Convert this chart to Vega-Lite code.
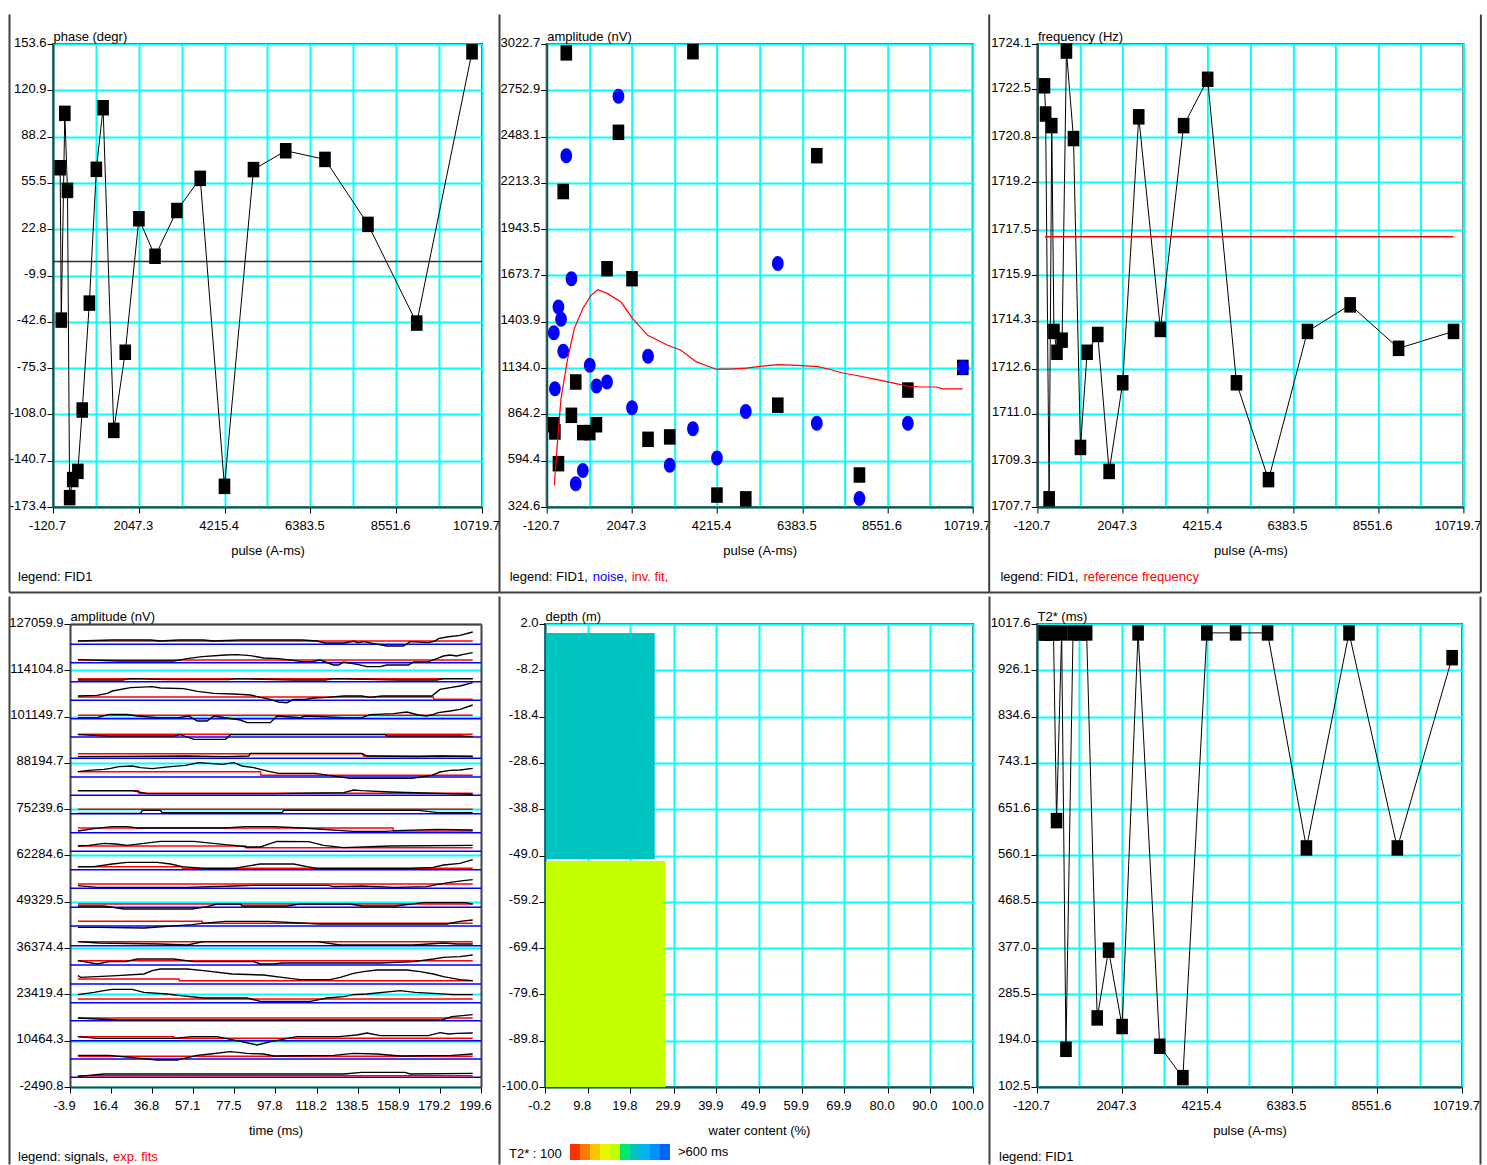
{
"$schema": "https://vega.github.io/schema/vega-lite/v6.json",
"background": "white",
"padding": {"left": 7, "top": 12, "right": 0, "bottom": 0},
"config": {
 "font": "Liberation Sans, Arial, sans-serif",
 "locale": {"number": {"decimal": ".", "thousands": ",", "grouping": [3], "currency": ["$", ""], "minus": "-"}},
 "view": {"stroke": "#404040", "strokeWidth": 2},
 "axis": {"labelFont": "Liberation Sans, Arial, sans-serif", "labelFontSize": 13, "labelColor": "#000000", "titleFont": "Liberation Sans, Arial, sans-serif", "titleFontSize": 13, "titleFontWeight": "normal", "titleColor": "#000000", "grid": true, "gridColor": "#00ffff", "gridWidth": 2, "gridOpacity": 1, "domainColor": "#404040", "domainWidth": 2, "tickColor": "#000000", "tickSize": 6, "tickWidth": 1, "labelOverlap": false, "labelFlush": false},
 "axisX": {"labelPadding": 6, "titlePadding": 12, "labelOffset": -6},
 "axisY": {"labelPadding": 1, "labelOffset": -2, "titleAngle": 0, "titleAlign": "left", "titleBaseline": "alphabetic", "titleX": 0, "titleY": -4},
 "legend": {"labelFont": "Liberation Sans, Arial, sans-serif", "labelFontSize": 13, "labelColor": "#000000", "symbolSize": 0, "symbolStrokeWidth": 0, "symbolOpacity": 0, "labelOffset": -13, "columnPadding": 4, "padding": 0, "orient": "none", "direction": "horizontal", "titleFont": "Liberation Sans, Arial, sans-serif", "titleFontSize": 13, "titleFontWeight": "normal", "titleColor": "#000000", "labelLimit": 0}
},
"datasets": {
 "top": [
  {"p":60,"ph":66.2,"fa":804,"no":1340,"fr":1722.62,"t2":1000},
  {"p":88,"ph":-41.4,"fa":762,"no":1014,"fr":1721.62,"t2":1000},
  {"p":178,"ph":104.6,"fa":577,"no":1490,"fr":1707.99,"t2":1000},
  {"p":245,"ph":50.2,"fa":null,"no":1418,"fr":1721.21,"t2":1000},
  {"p":300,"ph":-166.8,"fa":2163,"no":1232,"fr":1713.92,"t2":1000},
  {"p":378,"ph":-154.0,"fa":2971,"no":2372,"fr":1713.18,"t2":629},
  {"p":508,"ph":-148.2,"fa":859,"no":1655,"fr":1713.61,"t2":1000},
  {"p":618,"ph":-104.9,"fa":1053,"no":460,"fr":1723.85,"t2":177},
  {"p":798,"ph":-29.4,"fa":758,"no":538,"fr":1720.75,"t2":1000},
  {"p":975,"ph":65.1,"fa":758,"no":1150,"fr":1709.81,"t2":1000},
  {"p":1145,"ph":108.6,"fa":804,"no":1030,"fr":1713.18,"t2":1000},
  {"p":1415,"ph":-119.3,"fa":1713,"no":1053,"fr":1713.81,"t2":239},
  {"p":1705,"ph":-64.1,"fa":2508,"no":2718,"fr":1708.96,"t2":373},
  {"p":2050,"ph":30.2,"fa":1655,"no":903,"fr":1712.1,"t2":222},
  {"p":2458,"ph":3.7,"fa":719,"no":1203,"fr":1721.52,"t2":1000},
  {"p":3010,"ph":36.0,"fa":733,"no":568,"fr":1713.99,"t2":183},
  {"p":3600,"ph":58.7,"fa":2978,"no":780,"fr":1721.21,"t2":121},
  {"p":4212,"ph":-158.8,"fa":394,"no":610,"fr":1722.85,"t2":1000},
  {"p":4945,"ph":64.9,"fa":372,"no":881,"fr":1712.1,"t2":1000},
  {"p":5760,"ph":78.2,"fa":918,"no":1744,"fr":1708.67,"t2":1000},
  {"p":6752,"ph":72.1,"fa":2372,"no":812,"fr":1713.92,"t2":575},
  {"p":7838,"ph":26.2,"fa":511,"no":374,"fr":1714.86,"t2":1000},
  {"p":9070,"ph":-43.5,"fa":1006,"no":812,"fr":1713.32,"t2":575},
  {"p":10468,"ph":148.1,"fa":1138,"no":1138,"fr":1713.92,"t2":951}
 ],
 "fit2": [
  {"p":72.7,"v":451},{"p":159,"v":723},{"p":243,"v":956},{"p":413.7,"v":1189},{"p":581.6,"v":1364},{"p":795.4,"v":1480},{"p":1006.6,"v":1558},{"p":1177,"v":1591},{"p":1431.6,"v":1568},{"p":1770,"v":1519},{"p":2067.8,"v":1422},{"p":2449,"v":1325},{"p":2958,"v":1267},{"p":3297,"v":1238},{"p":3679.4,"v":1171.5},{"p":3933.9,"v":1149.5},{"p":4188.4,"v":1127.5},{"p":4527.7,"v":1127.5},{"p":4951.8,"v":1134.1},{"p":5375.9,"v":1145.1},{"p":5757.6,"v":1153.9},{"p":6266.6,"v":1149.5},{"p":6775.5,"v":1142.9},{"p":7072.4,"v":1127.5},{"p":7411.7,"v":1105.5},{"p":7835.8,"v":1087.9},{"p":8259.9,"v":1068.1},{"p":8768.8,"v":1043.8},{"p":9065.7,"v":1028.4},{"p":9447.4,"v":1024},{"p":9786.7,"v":1024},{"p":9956.4,"v":1013},{"p":10465.3,"v":1013}
 ],
 "ref3": [{"p":75,"f":1717.27},{"p":10468,"f":1717.27}],
 "base4": [{"a":121370},{"a":116240},{"a":110924},{"a":105701},{"a":100571},{"a":95441},{"a":89472},{"a":84249},{"a":79119},{"a":73989},{"a":68672},{"a":63449},{"a":58320},{"a":53097},{"a":47781},{"a":42558},{"a":37055},{"a":31645},{"a":26329},{"a":21105},{"a":16069},{"a":10473},{"a":5343},{"a":213}],
 "fit4": [
  {"k":1,"t":0,"a":122303},{"k":1,"t":195.5,"a":122303},
  {"k":2,"t":0,"a":116986},{"k":2,"t":195.5,"a":116986},
  {"k":3,"t":0,"a":111763},{"k":3,"t":195.5,"a":111763},
  {"k":4,"t":0,"a":106633},{"k":4,"t":176,"a":106633},{"k":4,"t":176.3,"a":105980},{"k":4,"t":195.5,"a":105980},
  {"k":5,"t":0,"a":101504},{"k":5,"t":195.5,"a":101504},
  {"k":6,"t":0,"a":96187},{"k":6,"t":195.5,"a":96187},
  {"k":7,"t":0,"a":90777},{"k":7,"t":141,"a":90777},{"k":7,"t":141.3,"a":90125},{"k":7,"t":195.5,"a":90125},
  {"k":8,"t":0,"a":85741},{"k":8,"t":90.4,"a":85741},{"k":8,"t":90.7,"a":84715},{"k":8,"t":195.5,"a":84715},
  {"k":9,"t":0,"a":80425},{"k":9,"t":30,"a":80425},{"k":9,"t":30.3,"a":79678},{"k":9,"t":195.5,"a":79678},
  {"k":10,"t":0,"a":75201},{"k":10,"t":195.5,"a":75201},
  {"k":11,"t":0,"a":69978},{"k":11,"t":156,"a":69978},{"k":11,"t":156.3,"a":69139},{"k":11,"t":195.5,"a":69139},
  {"k":12,"t":0,"a":64942},{"k":12,"t":83,"a":64942},{"k":12,"t":83.3,"a":64475},{"k":12,"t":195.5,"a":64475},
  {"k":13,"t":0,"a":59160},{"k":13,"t":51.6,"a":59160},{"k":13,"t":51.9,"a":58693},{"k":13,"t":195.5,"a":58693},
  {"k":14,"t":0,"a":54310},{"k":14,"t":195.5,"a":54310},
  {"k":15,"t":0,"a":48713},{"k":15,"t":195.5,"a":48713},
  {"k":16,"t":0,"a":43863},{"k":16,"t":61.5,"a":43863},{"k":16,"t":61.8,"a":43304},{"k":16,"t":195.5,"a":43304},
  {"k":17,"t":0,"a":38174},{"k":17,"t":195.5,"a":38174},
  {"k":18,"t":0,"a":32857},{"k":18,"t":195.5,"a":32857},
  {"k":19,"t":0,"a":27728},{"k":19,"t":50,"a":27728},{"k":19,"t":50.3,"a":27261},{"k":19,"t":195.5,"a":27261},
  {"k":20,"t":0,"a":22131},{"k":20,"t":195.5,"a":22131},
  {"k":21,"t":0,"a":16815},{"k":21,"t":195.5,"a":16815},
  {"k":22,"t":0,"a":11592},{"k":22,"t":47.5,"a":11592},{"k":22,"t":47.8,"a":11126},{"k":22,"t":195.5,"a":11126},
  {"k":23,"t":0,"a":6089},{"k":23,"t":195.5,"a":6089},
  {"k":24,"t":0,"a":679},{"k":24,"t":195.5,"a":679}
 ],
 "sig": [
  {"k":1,"t":0,"a":122303},{"k":1,"t":17,"a":122583},{"k":1,"t":36,"a":122583},{"k":1,"t":40.9,"a":122303},{"k":1,"t":50,"a":122583},{"k":1,"t":62,"a":122583},{"k":1,"t":67.3,"a":122303},{"k":1,"t":80.5,"a":122583},{"k":1,"t":111,"a":122583},{"k":1,"t":118.4,"a":122303},{"k":1,"t":122.5,"a":121743},{"k":1,"t":131.6,"a":121743},{"k":1,"t":136.5,"a":122209},{"k":1,"t":139,"a":121836},{"k":1,"t":141.4,"a":122116},{"k":1,"t":153,"a":120904},{"k":1,"t":161.2,"a":120904},{"k":1,"t":164.5,"a":122116},{"k":1,"t":173.6,"a":121836},{"k":1,"t":176.9,"a":122303},{"k":1,"t":178.5,"a":122956},{"k":1,"t":182.6,"a":123422},{"k":1,"t":189.2,"a":123888},{"k":1,"t":195.5,"a":124821},
  {"k":2,"t":0,"a":117080},{"k":2,"t":20.3,"a":116707},{"k":2,"t":47.5,"a":116707},{"k":2,"t":54.1,"a":117359},{"k":2,"t":61.5,"a":117919},{"k":2,"t":73.1,"a":118385},{"k":2,"t":78.8,"a":118479},{"k":2,"t":85.4,"a":118199},{"k":2,"t":92,"a":117546},{"k":2,"t":99.4,"a":117359},{"k":2,"t":103.5,"a":117080},{"k":2,"t":111,"a":116520},{"k":2,"t":115.9,"a":116520},{"k":2,"t":120,"a":116986},{"k":2,"t":126.6,"a":115587},{"k":2,"t":129.1,"a":115587},{"k":2,"t":131.6,"a":116427},{"k":2,"t":139,"a":115681},{"k":2,"t":143.1,"a":115121},{"k":2,"t":149.7,"a":115121},{"k":2,"t":153,"a":115587},{"k":2,"t":163.7,"a":115587},{"k":2,"t":166.2,"a":116427},{"k":2,"t":173.6,"a":116520},{"k":2,"t":177.7,"a":117359},{"k":2,"t":181,"a":118106},{"k":2,"t":184.3,"a":118385},{"k":2,"t":187.6,"a":118106},{"k":2,"t":190.9,"a":118572},{"k":2,"t":195.5,"a":119038},
  {"k":3,"t":0,"a":111390},{"k":3,"t":22,"a":111390},{"k":3,"t":26.1,"a":111763},{"k":3,"t":45,"a":111483},{"k":3,"t":74.7,"a":111483},{"k":3,"t":78.8,"a":111763},{"k":3,"t":106.8,"a":111390},{"k":3,"t":122.5,"a":111390},{"k":3,"t":126.6,"a":111763},{"k":3,"t":158.7,"a":111390},{"k":3,"t":177.7,"a":111390},{"k":3,"t":181,"a":111763},{"k":3,"t":195.5,"a":111763},
  {"k":4,"t":0,"a":106913},{"k":4,"t":9.6,"a":107100},{"k":4,"t":14.6,"a":107659},{"k":4,"t":17,"a":108312},{"k":4,"t":26.1,"a":109245},{"k":4,"t":36.8,"a":109525},{"k":4,"t":40.9,"a":109152},{"k":4,"t":52.5,"a":108965},{"k":4,"t":59.1,"a":108219},{"k":4,"t":67.3,"a":107659},{"k":4,"t":77.2,"a":107473},{"k":4,"t":85.4,"a":107193},{"k":4,"t":90.4,"a":106540},{"k":4,"t":95.3,"a":105980},{"k":4,"t":99.4,"a":105234},{"k":4,"t":103.5,"a":105048},{"k":4,"t":106.8,"a":105980},{"k":4,"t":112.6,"a":105980},{"k":4,"t":116.7,"a":106354},{"k":4,"t":123.3,"a":106540},{"k":4,"t":131.6,"a":106913},{"k":4,"t":140.6,"a":106913},{"k":4,"t":144.7,"a":106540},{"k":4,"t":150.5,"a":106913},{"k":4,"t":175.2,"a":106913},{"k":4,"t":179.3,"a":108779},{"k":4,"t":184.3,"a":109245},{"k":4,"t":189.2,"a":109711},{"k":4,"t":195.5,"a":110644},
  {"k":5,"t":0,"a":100851},{"k":5,"t":9.6,"a":100851},{"k":5,"t":15.4,"a":101783},{"k":5,"t":24.4,"a":101783},{"k":5,"t":29.4,"a":101317},{"k":5,"t":39.3,"a":100851},{"k":5,"t":50,"a":100851},{"k":5,"t":54.9,"a":101317},{"k":5,"t":59.1,"a":99918},{"k":5,"t":64,"a":99918},{"k":5,"t":67.3,"a":101317},{"k":5,"t":80.5,"a":100198},{"k":5,"t":83.8,"a":99452},{"k":5,"t":95.3,"a":99452},{"k":5,"t":98.6,"a":101317},{"k":5,"t":110.1,"a":100851},{"k":5,"t":112.6,"a":101317},{"k":5,"t":131.6,"a":100851},{"k":5,"t":140.6,"a":100851},{"k":5,"t":144.7,"a":101690},{"k":5,"t":156.3,"a":101970},{"k":5,"t":162.9,"a":102436},{"k":5,"t":168.6,"a":101597},{"k":5,"t":172.7,"a":101317},{"k":5,"t":176,"a":101783},{"k":5,"t":178.5,"a":102250},{"k":5,"t":184.3,"a":102716},{"k":5,"t":189.2,"a":103182},{"k":5,"t":195.5,"a":104395},
  {"k":6,"t":0,"a":96094},{"k":6,"t":15.4,"a":95721},{"k":6,"t":47.5,"a":95721},{"k":6,"t":50.8,"a":96094},{"k":6,"t":57.4,"a":94788},{"k":6,"t":73.1,"a":94788},{"k":6,"t":75.5,"a":96094},{"k":6,"t":152.2,"a":96094},{"k":6,"t":153,"a":95721},{"k":6,"t":190,"a":95721},{"k":6,"t":195.5,"a":95534},
  {"k":7,"t":0,"a":89938},{"k":7,"t":54.1,"a":90125},{"k":7,"t":73.1,"a":89938},{"k":7,"t":84.6,"a":90125},{"k":7,"t":85.4,"a":90871},{"k":7,"t":140.6,"a":90871},{"k":7,"t":143.1,"a":90125},{"k":7,"t":168.6,"a":89938},{"k":7,"t":179.3,"a":90125},{"k":7,"t":195.5,"a":89938},
  {"k":8,"t":0,"a":85741},{"k":8,"t":5.5,"a":86114},{"k":8,"t":12.9,"a":86394},{"k":8,"t":16.2,"a":86674},{"k":8,"t":20.3,"a":87140},{"k":8,"t":26.9,"a":87326},{"k":8,"t":31,"a":86860},{"k":8,"t":36.8,"a":86580},{"k":8,"t":45.9,"a":87140},{"k":8,"t":53.3,"a":87513},{"k":8,"t":59.9,"a":88259},{"k":8,"t":64.8,"a":88073},{"k":8,"t":71.4,"a":87793},{"k":8,"t":77.2,"a":88259},{"k":8,"t":81.3,"a":87326},{"k":8,"t":87.1,"a":86860},{"k":8,"t":90.4,"a":86394},{"k":8,"t":94.5,"a":85834},{"k":8,"t":99.4,"a":85275},{"k":8,"t":117.5,"a":85275},{"k":8,"t":134.8,"a":83876},{"k":8,"t":165.3,"a":83876},{"k":8,"t":175.2,"a":84715},{"k":8,"t":179.3,"a":85648},{"k":8,"t":184.3,"a":86114},{"k":8,"t":189.2,"a":86207},{"k":8,"t":195.5,"a":86674},
  {"k":9,"t":0,"a":80425},{"k":9,"t":26.9,"a":80425},{"k":9,"t":34.3,"a":79585},{"k":9,"t":97,"a":79585},{"k":9,"t":131.6,"a":79865},{"k":9,"t":136.5,"a":80611},{"k":9,"t":140.6,"a":80425},{"k":9,"t":154.6,"a":80051},{"k":9,"t":195.5,"a":79399},
  {"k":10,"t":0,"a":74082},{"k":10,"t":31,"a":74082},{"k":10,"t":31.9,"a":74922},{"k":10,"t":40.9,"a":74922},{"k":10,"t":41.7,"a":74269},{"k":10,"t":101.1,"a":74269},{"k":10,"t":101.9,"a":74922},{"k":10,"t":168.6,"a":74922},{"k":10,"t":178.5,"a":74269},{"k":10,"t":195.5,"a":74269},
  {"k":11,"t":0,"a":69139},{"k":11,"t":8,"a":69792},{"k":11,"t":17,"a":70351},{"k":11,"t":24.4,"a":70351},{"k":11,"t":29.4,"a":69978},{"k":11,"t":73.1,"a":69978},{"k":11,"t":82.9,"a":70351},{"k":11,"t":97,"a":70351},{"k":11,"t":111,"a":69978},{"k":11,"t":136.5,"a":69046},{"k":11,"t":152.2,"a":69046},{"k":11,"t":157.9,"a":69232},{"k":11,"t":177.7,"a":69605},{"k":11,"t":195.5,"a":69419},
  {"k":12,"t":0,"a":64942},{"k":12,"t":5.5,"a":65128},{"k":12,"t":12.9,"a":65688},{"k":12,"t":18.7,"a":65501},{"k":12,"t":24.4,"a":65128},{"k":12,"t":32.7,"a":65688},{"k":12,"t":40.9,"a":66247},{"k":12,"t":57.4,"a":66247},{"k":12,"t":73.1,"a":65315},{"k":12,"t":77.2,"a":65128},{"k":12,"t":83.8,"a":64662},{"k":12,"t":90.4,"a":64662},{"k":12,"t":93.7,"a":65315},{"k":12,"t":98.6,"a":66247},{"k":12,"t":114.2,"a":66154},{"k":12,"t":121.7,"a":65128},{"k":12,"t":131.6,"a":64475},{"k":12,"t":154.6,"a":64942},{"k":12,"t":195.5,"a":65128},
  {"k":13,"t":0,"a":59160},{"k":13,"t":8,"a":59160},{"k":13,"t":17,"a":59906},{"k":13,"t":24.4,"a":60372},{"k":13,"t":39.3,"a":60372},{"k":13,"t":45.9,"a":59906},{"k":13,"t":51.6,"a":59160},{"k":13,"t":62.3,"a":58693},{"k":13,"t":77.2,"a":58693},{"k":13,"t":85.4,"a":59439},{"k":13,"t":90.4,"a":59906},{"k":13,"t":106.8,"a":59906},{"k":13,"t":113.4,"a":59160},{"k":13,"t":118.4,"a":58693},{"k":13,"t":164.5,"a":58693},{"k":13,"t":176,"a":58973},{"k":13,"t":181,"a":59626},{"k":13,"t":189.2,"a":60092},{"k":13,"t":195.5,"a":61118},
  {"k":14,"t":0,"a":53843},{"k":14,"t":9.6,"a":53377},{"k":14,"t":54.1,"a":53377},{"k":14,"t":77.2,"a":53750},{"k":14,"t":87.1,"a":53937},{"k":14,"t":124.1,"a":53937},{"k":14,"t":126.6,"a":53563},{"k":14,"t":140.6,"a":53750},{"k":14,"t":156.3,"a":53377},{"k":14,"t":172.7,"a":53563},{"k":14,"t":177.7,"a":54123},{"k":14,"t":184.3,"a":54776},{"k":14,"t":190.9,"a":55242},{"k":14,"t":195.5,"a":55522},
  {"k":15,"t":0,"a":48154},{"k":15,"t":12.9,"a":48154},{"k":15,"t":22.8,"a":47314},{"k":15,"t":56.6,"a":47314},{"k":15,"t":64,"a":47967},{"k":15,"t":68.9,"a":48713},{"k":15,"t":80.5,"a":48713},{"k":15,"t":81.3,"a":48154},{"k":15,"t":103.5,"a":48154},{"k":15,"t":110.1,"a":48713},{"k":15,"t":134.8,"a":48713},{"k":15,"t":140.6,"a":48154},{"k":15,"t":157.1,"a":48154},{"k":15,"t":171.1,"a":49086},{"k":15,"t":191.7,"a":49086},{"k":15,"t":195.5,"a":48713},
  {"k":16,"t":0,"a":42184},{"k":16,"t":10.4,"a":42184},{"k":16,"t":32.7,"a":41998},{"k":16,"t":56.6,"a":42931},{"k":16,"t":61.5,"a":43304},{"k":16,"t":73.1,"a":43863},{"k":16,"t":94.5,"a":43863},{"k":16,"t":120,"a":43117},{"k":16,"t":182.6,"a":43117},{"k":16,"t":189.2,"a":43863},{"k":16,"t":195.5,"a":44236},
  {"k":17,"t":0,"a":38174},{"k":17,"t":10.4,"a":37801},{"k":17,"t":40.9,"a":37521},{"k":17,"t":54.1,"a":37241},{"k":17,"t":62.3,"a":38174},{"k":17,"t":118.4,"a":38174},{"k":17,"t":129.9,"a":37241},{"k":17,"t":166.2,"a":37241},{"k":17,"t":181,"a":37801},{"k":17,"t":187.6,"a":37521},{"k":17,"t":195.5,"a":37521},
  {"k":18,"t":0,"a":32857},{"k":18,"t":9.6,"a":31925},{"k":18,"t":15.4,"a":32578},{"k":18,"t":23.6,"a":32578},{"k":18,"t":29.4,"a":33324},{"k":18,"t":47.5,"a":33324},{"k":18,"t":57.4,"a":32578},{"k":18,"t":87.1,"a":32578},{"k":18,"t":90.4,"a":31925},{"k":18,"t":97,"a":31925},{"k":18,"t":101.1,"a":32204},{"k":18,"t":149.7,"a":32204},{"k":18,"t":166.2,"a":32578},{"k":18,"t":176,"a":33324},{"k":18,"t":181,"a":33790},{"k":18,"t":189.2,"a":33977},{"k":18,"t":195.5,"a":34443},
  {"k":19,"t":0,"a":28660},{"k":19,"t":1.4,"a":28194},{"k":19,"t":19.5,"a":28660},{"k":19,"t":32.7,"a":29127},{"k":19,"t":36.8,"a":30059},{"k":19,"t":40.9,"a":30526},{"k":19,"t":54.1,"a":30526},{"k":19,"t":62.3,"a":30059},{"k":19,"t":76.4,"a":29127},{"k":19,"t":92,"a":28847},{"k":19,"t":101.1,"a":28194},{"k":19,"t":110.1,"a":27541},{"k":19,"t":125,"a":27541},{"k":19,"t":129.9,"a":28194},{"k":19,"t":136.5,"a":29313},{"k":19,"t":141.4,"a":29780},{"k":19,"t":148,"a":30246},{"k":19,"t":162.9,"a":30246},{"k":19,"t":169.5,"a":29780},{"k":19,"t":176,"a":29127},{"k":19,"t":181,"a":28381},{"k":19,"t":189.2,"a":27541},{"k":19,"t":195.5,"a":27261},
  {"k":20,"t":0,"a":23344},{"k":20,"t":8,"a":23997},{"k":20,"t":12.9,"a":24463},{"k":20,"t":17,"a":24836},{"k":20,"t":26.9,"a":24836},{"k":20,"t":32.7,"a":23997},{"k":20,"t":44.2,"a":23530},{"k":20,"t":50.8,"a":23064},{"k":20,"t":62.3,"a":22411},{"k":20,"t":83.8,"a":22411},{"k":20,"t":90.4,"a":21479},{"k":20,"t":115.1,"a":21479},{"k":20,"t":123.3,"a":22411},{"k":20,"t":131.6,"a":22784},{"k":20,"t":136.5,"a":23344},{"k":20,"t":143.1,"a":23530},{"k":20,"t":159.6,"a":24463},{"k":20,"t":167,"a":23997},{"k":20,"t":176,"a":23717},{"k":20,"t":185.9,"a":23344},{"k":20,"t":195.5,"a":23344},
  {"k":21,"t":0,"a":16815},{"k":21,"t":19.5,"a":16255},{"k":21,"t":180.2,"a":16255},{"k":21,"t":185.1,"a":17188},{"k":21,"t":195.5,"a":17748},
  {"k":22,"t":0,"a":11592},{"k":22,"t":9.6,"a":11126},{"k":22,"t":47.5,"a":11126},{"k":22,"t":56.6,"a":11592},{"k":22,"t":68.9,"a":11592},{"k":22,"t":80.5,"a":10286},{"k":22,"t":88.7,"a":9260},{"k":22,"t":96.1,"a":10286},{"k":22,"t":108.5,"a":11592},{"k":22,"t":129.1,"a":11592},{"k":22,"t":138.1,"a":12058},{"k":22,"t":143.1,"a":12618},{"k":22,"t":149.7,"a":11872},{"k":22,"t":173.6,"a":11872},{"k":22,"t":179.3,"a":12711},{"k":22,"t":183.5,"a":12338},{"k":22,"t":187.6,"a":12525},{"k":22,"t":195.5,"a":12618},
  {"k":23,"t":0,"a":6369},{"k":23,"t":15.4,"a":6369},{"k":23,"t":39.3,"a":5063},{"k":23,"t":49.2,"a":5063},{"k":23,"t":59.1,"a":6369},{"k":23,"t":65.6,"a":6742},{"k":23,"t":75.5,"a":7395},{"k":23,"t":83.8,"a":6928},{"k":23,"t":92,"a":6742},{"k":23,"t":97,"a":6182},{"k":23,"t":126.6,"a":6369},{"k":23,"t":136.5,"a":6928},{"k":23,"t":148,"a":6742},{"k":23,"t":159.6,"a":6182},{"k":23,"t":185.1,"a":6369},{"k":23,"t":195.5,"a":6742},
  {"k":24,"t":0,"a":493},{"k":24,"t":12.9,"a":1146},{"k":24,"t":131.6,"a":1146},{"k":24,"t":140.6,"a":1612},{"k":24,"t":162,"a":1612},{"k":24,"t":164.5,"a":1146},{"k":24,"t":195.5,"a":1332}
 ],
 "wc": [
  {"x0":0,"wc":25.5,"d0":0,"d1":-49.8,"c":"c7"},
  {"x0":0,"wc":28.0,"d0":-50.2,"d1":-100,"c":"c5"}
 ]
},
"columns": 1,
"spacing": 0,
"resolve": {"scale": {"color": "independent"}, "legend": {"color": "independent"}},
"concat": [
 {
  "spacing": 64.7, "bounds": "flush",
  "resolve": {"scale": {"color": "independent"}, "legend": {"color": "independent"}},
  "hconcat": [
   {
    "width": 429, "height": 463,
    "data": {"name": "top"},
    "resolve": {"axis": {"x": "independent", "y": "independent"}},
    "layer": [
     {"data": {"values": [{}]}, "mark": {"type": "rule", "color": "#303030", "strokeWidth": 1.5},
      "encoding": {"y": {"datum": 0, "type": "quantitative", "scale": {"domain": [-173.4, 153.6], "nice": false, "zero": false}, "axis": {"title": "phase (degr)", "values": [-173.4, -140.7, -108.0, -75.3, -42.6, -9.9, 22.8, 55.5, 88.2, 120.9, 153.6], "format": ".1f"}}}},
     {"mark": {"type": "line", "color": "#000000", "strokeWidth": 1},
      "encoding": {
       "x": {"field": "p", "type": "quantitative", "title": "pulse (A-ms)", "scale": {"domain": [-120.7, 10719.7], "nice": false, "zero": false}, "axis": {"values": [-120.7, 963.3, 2047.3, 3131.4, 4215.4, 5299.5, 6383.5, 7467.6, 8551.6, 9635.7, 10719.7], "format": ".1f", "labelExpr": "indexof([-120.7, 2047.3, 4215.4, 6383.5, 8551.6, 10719.7], datum.value) >= 0 ? datum.label : ''", "tickOpacity": {"condition": {"test": "indexof([-120.7, 2047.3, 4215.4, 6383.5, 8551.6, 10719.7], datum.value) >= 0", "value": 1}, "value": 0}}},
       "y": {"field": "ph", "type": "quantitative", "axis": null}}},
     {"mark": {"type": "point", "shape": "M-0.75,-1H0.75V1H-0.75Z", "size": 240, "filled": true, "opacity": 1},
      "encoding": {
       "x": {"field": "p", "type": "quantitative", "axis": null},
       "y": {"field": "ph", "type": "quantitative", "axis": null},
       "color": {"datum": "FID1", "scale": {"domain": ["FID1"], "range": ["#000000"]}, "legend": {"legendX": -35, "legendY": 526, "title": null, "labelExpr": "'legend: ' + datum.label", "encode": {"symbols": {"update": {"size": {"value": 0}, "strokeWidth": {"value": 0}}}}}}}},
     {"data": {"values": [{}]}, "mark": {"type": "point", "opacity": 0},
      "encoding": {
       "x": {"datum": 5000, "type": "quantitative", "axis": {"orient": "bottom", "offset": 85, "values": [10719.7], "tickOffset": 17, "tickSize": -578, "tickColor": "#404040", "tickWidth": 2, "domain": false, "labels": false, "grid": false, "title": null}},
       "y": {"datum": 0, "type": "quantitative", "axis": {"orient": "left", "offset": 44, "values": [-173.4], "tickOffset": 85, "tickSize": -490, "tickColor": "#404040", "tickWidth": 2, "domain": false, "labels": false, "grid": false, "title": null}}}},
     {"data": {"values": [{}]}, "mark": {"type": "point", "opacity": 0},
      "encoding": {
       "x": {"datum": 5000, "type": "quantitative", "axis": {"orient": "bottom", "offset": 85, "values": [-120.7], "tickOffset": -44, "tickSize": -578, "tickColor": "#404040", "tickWidth": 2, "domain": false, "labels": false, "grid": false, "title": null}},
       "y": {"datum": 0, "type": "quantitative", "axis": null}}}
    ]
   },
   {
    "width": 426, "height": 463,
    "data": {"name": "top"},
    "resolve": {"axis": {"x": "independent", "y": "independent"}},
    "layer": [
     {"mark": {"type": "point", "shape": "M-0.75,-1H0.75V1H-0.75Z", "size": 240, "filled": true, "opacity": 1},
      "encoding": {
       "x": {"field": "p", "type": "quantitative", "title": "pulse (A-ms)", "scale": {"domain": [-120.7, 10719.7], "nice": false, "zero": false}, "axis": {"values": [-120.7, 963.3, 2047.3, 3131.4, 4215.4, 5299.5, 6383.5, 7467.6, 8551.6, 9635.7, 10719.7], "format": ".1f", "labelExpr": "indexof([-120.7, 2047.3, 4215.4, 6383.5, 8551.6, 10719.7], datum.value) >= 0 ? datum.label : ''", "tickOpacity": {"condition": {"test": "indexof([-120.7, 2047.3, 4215.4, 6383.5, 8551.6, 10719.7], datum.value) >= 0", "value": 1}, "value": 0}}},
       "y": {"field": "fa", "type": "quantitative", "title": "amplitude (nV)", "scale": {"domain": [324.6, 3022.7], "nice": false, "zero": false}, "axis": {"values": [324.6, 594.4, 864.2, 1134.0, 1403.9, 1673.7, 1943.5, 2213.3, 2483.1, 2752.9, 3022.7], "format": ".1f"}},
       "color": {"datum": "FID1", "scale": {"domain": ["FID1", "noise", "inv. fit"], "range": ["#000000", "#0000ff", "#ff0000"]}, "legend": {"legendX": -37, "legendY": 526, "title": null, "labelExpr": "datum.value == 'FID1' ? 'legend: FID1,' : datum.label + ','", "encode": {"symbols": {"update": {"size": {"value": 0}, "strokeWidth": {"value": 0}}}, "labels": {"update": {"fill": {"signal": "datum.value == 'noise' ? '#0000ff' : (datum.value == 'inv. fit' ? '#ff0000' : '#000000')"}}}}}}}},
     {"mark": {"type": "point", "shape": "M0,-1C0.43,-1,0.78,-0.55,0.78,0C0.78,0.55,0.43,1,0,1C-0.43,1,-0.78,0.55,-0.78,0C-0.78,-0.55,-0.43,-1,0,-1Z", "size": 225, "filled": true, "opacity": 1},
      "encoding": {
       "x": {"field": "p", "type": "quantitative", "axis": null},
       "y": {"field": "no", "type": "quantitative", "axis": null},
       "color": {"datum": "noise"}}},
     {"data": {"name": "fit2"}, "mark": {"type": "line", "strokeWidth": 1.2},
      "encoding": {
       "x": {"field": "p", "type": "quantitative", "axis": null},
       "y": {"field": "v", "type": "quantitative", "axis": null},
       "color": {"datum": "inv. fit"}}},
     {"data": {"values": [{}]}, "mark": {"type": "point", "opacity": 0},
      "encoding": {
       "x": {"datum": 5000, "type": "quantitative", "axis": {"orient": "bottom", "offset": 85, "values": [10719.7], "tickOffset": 16.3, "tickSize": -578, "tickColor": "#404040", "tickWidth": 2, "domain": false, "labels": false, "grid": false, "title": null}},
       "y": {"datum": 1000, "type": "quantitative", "axis": {"orient": "left", "offset": 47.7, "values": [324.6], "tickOffset": 85, "tickSize": -490, "tickColor": "#404040", "tickWidth": 2, "domain": false, "labels": false, "grid": false, "title": null}}}}
    ]
   },
   {
    "width": 426, "height": 463,
    "data": {"name": "top"},
    "resolve": {"axis": {"x": "independent", "y": "independent"}},
    "layer": [
     {"mark": {"type": "line", "color": "#000000", "strokeWidth": 1},
      "encoding": {
       "x": {"field": "p", "type": "quantitative", "title": "pulse (A-ms)", "scale": {"domain": [-120.7, 10719.7], "nice": false, "zero": false}, "axis": {"values": [-120.7, 963.3, 2047.3, 3131.4, 4215.4, 5299.5, 6383.5, 7467.6, 8551.6, 9635.7, 10719.7], "format": ".1f", "labelExpr": "indexof([-120.7, 2047.3, 4215.4, 6383.5, 8551.6, 10719.7], datum.value) >= 0 ? datum.label : ''", "tickOpacity": {"condition": {"test": "indexof([-120.7, 2047.3, 4215.4, 6383.5, 8551.6, 10719.7], datum.value) >= 0", "value": 1}, "value": 0}}},
       "y": {"field": "fr", "type": "quantitative", "title": "frequency (Hz)", "scale": {"domain": [1707.7, 1724.1], "nice": false, "zero": false}, "axis": {"values": [1707.7, 1709.3, 1711.0, 1712.6, 1714.3, 1715.9, 1717.5, 1719.2, 1720.8, 1722.5, 1724.1], "format": ".1f"}}}},
     {"mark": {"type": "point", "shape": "M-0.75,-1H0.75V1H-0.75Z", "size": 240, "filled": true, "opacity": 1},
      "encoding": {
       "x": {"field": "p", "type": "quantitative", "axis": null},
       "y": {"field": "fr", "type": "quantitative", "axis": null},
       "color": {"datum": "FID1", "scale": {"domain": ["FID1", "reference frequency"], "range": ["#000000", "#ff0000"]}, "legend": {"legendX": -37, "legendY": 526, "title": null, "labelExpr": "datum.value == 'FID1' ? 'legend: FID1,' : datum.label", "encode": {"symbols": {"update": {"size": {"value": 0}, "strokeWidth": {"value": 0}}}, "labels": {"update": {"fill": {"signal": "datum.value == 'reference frequency' ? '#ff0000' : '#000000'"}}}}}}}},
     {"data": {"name": "ref3"}, "mark": {"type": "line", "strokeWidth": 1.5},
      "encoding": {
       "x": {"field": "p", "type": "quantitative", "axis": null},
       "y": {"field": "f", "type": "quantitative", "axis": null},
       "color": {"datum": "reference frequency"}}},
     {"data": {"values": [{}]}, "mark": {"type": "point", "opacity": 0},
      "encoding": {
       "x": {"datum": 5000, "type": "quantitative", "axis": {"orient": "bottom", "offset": 85, "values": [10719.7], "tickOffset": 17.3, "tickSize": -578, "tickColor": "#404040", "tickWidth": 2, "domain": false, "labels": false, "grid": false, "title": null}},
       "y": {"datum": 1715, "type": "quantitative", "axis": {"orient": "left", "offset": 48.4, "values": [1707.7], "tickOffset": 85, "tickSize": -491, "tickColor": "#404040", "tickWidth": 2, "domain": false, "labels": false, "grid": false, "title": null}}}}
    ]
   }
  ]
 },
 {
  "spacing": 64, "bounds": "flush",
  "resolve": {"scale": {"color": "independent"}, "legend": {"color": "independent"}},
  "hconcat": [
   {
    "width": 428, "height": 463,
    "view": {"stroke": null},
    "resolve": {"axis": {"x": "independent", "y": "independent"}},
    "layer": [
     {"data": {"name": "base4"}, "mark": {"type": "rule", "color": "#0000ff", "strokeWidth": 1.5},
      "encoding": {
       "x": {"datum": -3.9, "type": "quantitative", "scale": {"domain": [-3.9, 199.6], "range": [17, 428], "nice": false, "zero": false}, "axis": null},
       "x2": {"datum": 199.6},
       "y": {"field": "a", "type": "quantitative", "title": "amplitude (nV)", "scale": {"domain": [-2490.8, 127059.9], "nice": false, "zero": false}, "axis": {"values": [-2490.8, 10464.3, 23419.4, 36374.4, 49329.5, 62284.6, 75239.6, 88194.7, 101149.7, 114104.8, 127059.9], "format": ".1f", "offset": -17}}}},
     {"data": {"name": "fit4"}, "mark": {"type": "line", "strokeWidth": 1.5},
      "encoding": {
       "x": {"field": "t", "type": "quantitative", "title": "time (ms)", "axis": {"values": [-3.9, 16.4, 36.8, 57.1, 77.5, 97.8, 118.2, 138.5, 158.9, 179.2, 199.6], "format": ".1f"}},
       "y": {"field": "a", "type": "quantitative", "axis": null},
       "detail": {"field": "k", "type": "nominal"},
       "color": {"datum": "exp. fits", "scale": {"domain": ["signals", "exp. fits"], "range": ["#000000", "#ff0000"]}, "legend": {"legendX": -35, "legendY": 526, "title": null, "labelExpr": "datum.value == 'signals' ? 'legend: signals,' : datum.label", "encode": {"symbols": {"update": {"size": {"value": 0}, "strokeWidth": {"value": 0}}}, "labels": {"update": {"fill": {"signal": "datum.value == 'exp. fits' ? '#ff0000' : '#000000'"}}}}}}}},
     {"data": {"name": "sig"}, "mark": {"type": "line", "strokeWidth": 1.4},
      "encoding": {
       "x": {"field": "t", "type": "quantitative", "axis": null},
       "y": {"field": "a", "type": "quantitative", "axis": null},
       "detail": {"field": "k", "type": "nominal"},
       "color": {"datum": "signals"}}},
     {"data": {"values": [{}]}, "mark": {"type": "point", "opacity": 0},
      "encoding": {
       "x": {"datum": 0, "type": "quantitative", "axis": {"orient": "top", "labels": false, "ticks": false, "grid": false, "title": null, "domain": true}},
       "y": {"datum": 0, "type": "quantitative", "axis": {"orient": "right", "labels": false, "ticks": false, "grid": false, "title": null, "domain": true}}}},
     {"data": {"values": [{}]}, "mark": {"type": "point", "opacity": 0},
      "encoding": {
       "x": {"datum": 100, "type": "quantitative", "axis": {"orient": "bottom", "offset": 77, "values": [199.6], "tickOffset": 18, "tickSize": -568, "tickColor": "#404040", "tickWidth": 2, "domain": false, "labels": false, "grid": false, "title": null}},
       "y": {"datum": 50000, "type": "quantitative", "axis": null}}},
     {"data": {"values": [{}]}, "mark": {"type": "point", "opacity": 0},
      "encoding": {
       "x": {"datum": 100, "type": "quantitative", "axis": {"orient": "bottom", "offset": 77, "values": [-3.9], "tickOffset": -61, "tickSize": -568, "tickColor": "#404040", "tickWidth": 2, "domain": false, "labels": false, "grid": false, "title": null}},
       "y": {"datum": 50000, "type": "quantitative", "axis": null}}}
    ]
   },
   {
    "width": 428, "height": 463,
    "resolve": {"axis": {"x": "independent", "y": "independent"}},
    "layer": [
     {"data": {"name": "wc"}, "mark": {"type": "rect"},
      "encoding": {
       "x": {"field": "x0", "type": "quantitative", "title": "water content (%)", "scale": {"domain": [-0.2, 100], "nice": false, "zero": false}, "axis": {"values": [-0.2, 9.8, 19.8, 29.9, 39.9, 49.9, 59.9, 69.9, 80.0, 90.0, 100.0], "format": ".1f"}},
       "x2": {"field": "wc"},
       "y": {"field": "d0", "type": "quantitative", "title": "depth (m)", "scale": {"domain": [-100, 2], "nice": false, "zero": false}, "axis": {"values": [-100.0, -89.8, -79.6, -69.4, -59.2, -49.0, -38.8, -28.6, -18.4, -8.2, 2.0], "format": ".1f"}},
       "y2": {"field": "d1"},
       "color": {"field": "c", "type": "nominal", "scale": {"domain": ["c1", "c2", "c3", "c4", "c5", "c6", "c7", "c8", "c9", "c10"], "range": ["#ff3000", "#ff7a00", "#ffc400", "#e8f500", "#c4ff00", "#00e868", "#00c4c0", "#00b4f0", "#0090ff", "#0064ff"]},
        "legend": {"legendX": -36, "legendY": 523, "title": "T2* : 100", "titleOrient": "left", "titlePadding": 8, "titleBaseline": "middle", "titleAnchor": "middle", "symbolType": "M-1,-1.6H1V1.6H-1Z", "symbolSize": 100, "symbolOpacity": 1, "symbolStrokeWidth": 0, "labelFontSize": 10, "labelOffset": -5, "columnPadding": 0, "labelExpr": "datum.value == 'c10' ? '>600 ms' : ''", "encode": {"labels": {"update": {"dx": {"signal": "datum.value == 'c10' ? 13 : 0"}, "fontSize": {"signal": "datum.value == 'c10' ? 13 : 10"}}}}}}}},
     {"data": {"values": [{}]}, "mark": {"type": "point", "opacity": 0},
      "encoding": {
       "x": {"datum": 50, "type": "quantitative", "axis": {"orient": "bottom", "offset": 77, "values": [100.0], "tickOffset": 16, "tickSize": -568, "tickColor": "#404040", "tickWidth": 2, "domain": false, "labels": false, "grid": false, "title": null}},
       "y": {"datum": -50, "type": "quantitative", "axis": null}}}
    ]
   },
   {
    "width": 425, "height": 463,
    "data": {"name": "top"},
    "resolve": {"axis": {"x": "independent", "y": "independent"}},
    "layer": [
     {"mark": {"type": "line", "color": "#000000", "strokeWidth": 1},
      "encoding": {
       "x": {"field": "p", "type": "quantitative", "title": "pulse (A-ms)", "scale": {"domain": [-120.7, 10719.7], "nice": false, "zero": false}, "axis": {"values": [-120.7, 963.3, 2047.3, 3131.4, 4215.4, 5299.5, 6383.5, 7467.6, 8551.6, 9635.7, 10719.7], "format": ".1f", "labelExpr": "indexof([-120.7, 2047.3, 4215.4, 6383.5, 8551.6, 10719.7], datum.value) >= 0 ? datum.label : ''", "tickOpacity": {"condition": {"test": "indexof([-120.7, 2047.3, 4215.4, 6383.5, 8551.6, 10719.7], datum.value) >= 0", "value": 1}, "value": 0}}},
       "y": {"field": "t2", "type": "quantitative", "title": "T2* (ms)", "scale": {"domain": [102.5, 1017.6], "nice": false, "zero": false}, "axis": {"values": [102.5, 194.0, 285.5, 377.0, 468.5, 560.1, 651.6, 743.1, 834.6, 926.1, 1017.6], "format": ".1f"}}}},
     {"mark": {"type": "point", "shape": "M-0.75,-1H0.75V1H-0.75Z", "size": 240, "filled": true, "opacity": 1},
      "encoding": {
       "x": {"field": "p", "type": "quantitative", "axis": null},
       "y": {"field": "t2", "type": "quantitative", "axis": null},
       "color": {"datum": "FID1", "scale": {"domain": ["FID1"], "range": ["#000000"]}, "legend": {"legendX": -38, "legendY": 526, "title": null, "labelExpr": "'legend: ' + datum.label", "encode": {"symbols": {"update": {"size": {"value": 0}, "strokeWidth": {"value": 0}}}}}}}},
     {"data": {"values": [{}]}, "mark": {"type": "point", "opacity": 0},
      "encoding": {
       "x": {"datum": 5000, "type": "quantitative", "axis": {"orient": "bottom", "offset": 77, "values": [10719.7], "tickOffset": 18, "tickSize": -568, "tickColor": "#404040", "tickWidth": 2, "domain": false, "labels": false, "grid": false, "title": null}},
       "y": {"datum": 500, "type": "quantitative", "axis": null}}}
    ]
   }
  ]
 }
]
}
